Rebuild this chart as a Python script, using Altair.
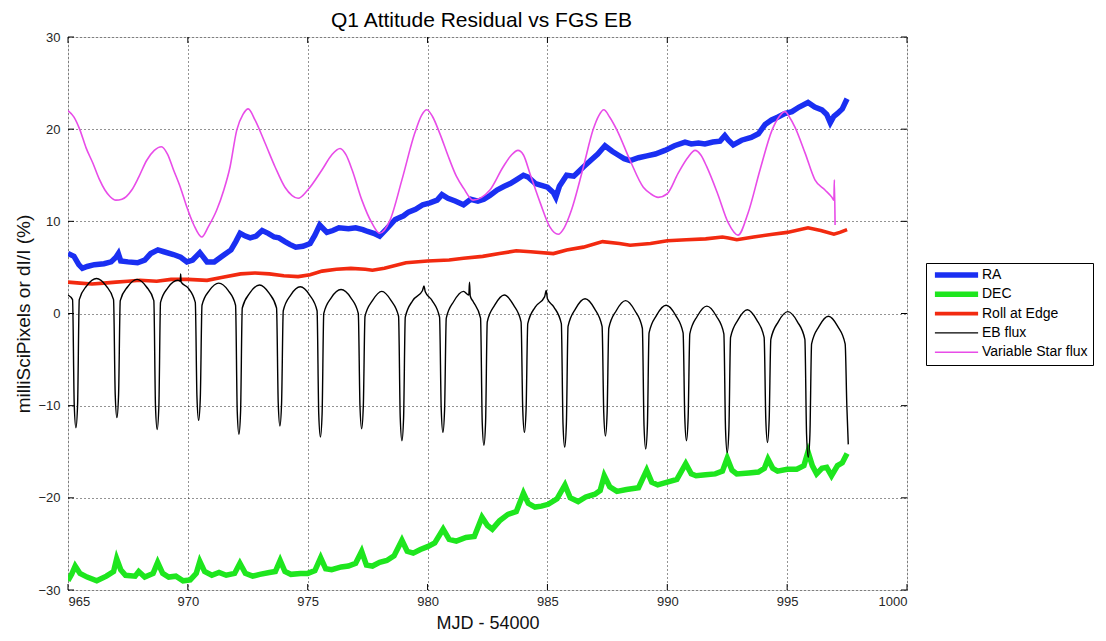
import altair as alt
import pandas as pd

TITLE = "Q1 Attitude Residual vs FGS EB"
X_TITLE = "MJD - 54000"
Y_TITLE = "milliSciPixels or dI/I (%)"
SERIES = ["RA", "DEC", "Roll at Edge", "EB flux", "Variable Star flux"]
COLORS = ["#1a2ff2", "#1ee61e", "#f22a10", "#000000", "#e84ce8"]
WIDTHS = [5.5, 5.5, 3.6, 1.4, 1.6]
X_TICKS = [965, 970, 975, 980, 985, 990, 995, 1000]
Y_TICKS = [-30, -20, -10, 0, 10, 20, 30]

RA_T = [965.00, 965.25, 965.45, 965.60, 965.80, 966.10, 966.50, 966.80, 967.00, 967.10,
        967.20, 967.50, 967.90, 968.20, 968.45, 968.75, 969.00, 969.40, 969.70, 969.96,
        970.20, 970.50, 970.80, 971.10, 971.47, 971.80, 972.00, 972.18, 972.40, 972.60,
        972.85, 973.10, 973.35, 973.60, 973.80, 974.05, 974.25, 974.50, 974.80, 975.10,
        975.30, 975.50, 975.80, 976.05, 976.30, 976.70, 977.00, 977.30, 977.50, 977.75,
        978.00, 978.30, 978.65, 979.00, 979.20, 979.50, 979.80, 980.10, 980.40, 980.60,
        980.85, 981.15, 981.50, 981.80, 982.10, 982.35, 982.60, 982.90, 983.20, 983.45,
        983.70, 984.00, 984.20, 984.50, 984.75, 985.00, 985.25, 985.35, 985.50, 985.80,
        986.10, 986.50, 986.80, 987.10, 987.40, 987.70, 987.95, 988.20, 988.45, 988.80,
        989.15, 989.50, 989.90, 990.30, 990.74, 991.00, 991.30, 991.57, 991.90, 992.20,
        992.40, 992.55, 992.75, 993.10, 993.50, 993.80, 994.08, 994.35, 994.60, 994.90,
        995.20, 995.50, 995.87, 996.15, 996.45, 996.65, 996.80, 996.95, 997.10, 997.30,
        997.50]
RA_V = [6.5, 6.2, 5.3, 4.9, 5.1, 5.3, 5.4, 5.6, 6.1, 6.5,
        5.7, 5.6, 5.5, 5.8, 6.5, 6.9, 6.7, 6.4, 6.1, 5.6,
        5.8, 6.6, 5.6, 5.6, 6.3, 6.9, 7.8, 8.7, 8.4, 8.2,
        8.4, 9.0, 8.7, 8.3, 8.2, 7.8, 7.5, 7.2, 7.3, 7.6,
        8.5, 9.6, 8.8, 9.0, 9.3, 9.2, 9.3, 9.1, 8.9, 8.7,
        8.4, 9.2, 10.2, 10.6, 11.0, 11.3, 11.8, 12.0, 12.3, 12.9,
        12.5, 12.2, 11.8, 12.4, 12.2, 12.4, 12.8, 13.4, 13.8, 14.1,
        14.5, 15.0, 14.8, 14.1, 13.9, 13.7, 13.1, 12.6, 13.8, 15.0,
        14.9, 15.9, 16.6, 17.3, 18.2, 17.6, 17.2, 16.8, 16.6, 16.9,
        17.1, 17.3, 17.7, 18.2, 18.6, 18.4, 18.5, 18.4, 18.6, 18.7,
        19.3, 18.8, 18.3, 18.8, 19.1, 19.5, 20.5, 21.0, 21.3, 21.7,
        21.9, 22.4, 22.9, 22.4, 22.1, 21.6, 20.7, 21.4, 21.7, 22.2,
        23.3]

DEC_T = [965.00, 965.15, 965.30, 965.50, 965.80, 966.20, 966.60, 966.90, 967.03, 967.20,
         967.40, 967.80, 967.95, 968.20, 968.55, 968.74, 968.95, 969.20, 969.50, 969.80,
         970.10, 970.35, 970.50, 970.70, 971.00, 971.30, 971.60, 971.95, 972.17, 972.40,
         972.70, 973.00, 973.40, 973.65, 973.85, 974.05, 974.30, 974.70, 975.00, 975.30,
         975.54, 975.75, 976.00, 976.40, 976.70, 977.00, 977.25, 977.45, 977.70, 978.00,
         978.30, 978.60, 978.93, 979.15, 979.40, 979.70, 980.00, 980.30, 980.65, 980.90,
         981.20, 981.60, 981.95, 982.27, 982.50, 982.70, 983.00, 983.35, 983.70, 984.00,
         984.20, 984.48, 984.75, 985.03, 985.40, 985.73, 985.95, 986.28, 986.60, 986.98,
         987.20, 987.37, 987.60, 987.90, 988.30, 988.80, 989.14, 989.35, 989.60, 990.00,
         990.40, 990.77, 991.00, 991.20, 991.60, 992.00, 992.30, 992.50, 992.70, 992.90,
         993.40, 993.80, 994.05, 994.20, 994.40, 994.60, 995.00, 995.40, 995.70, 995.87,
         996.05, 996.23, 996.45, 996.65, 996.85, 997.10, 997.30, 997.50]
DEC_V = [-29.0, -28.3, -27.4, -28.2, -28.6, -29.0, -28.5, -28.0, -26.6, -27.8,
         -28.4, -28.5, -28.0, -28.6, -28.2, -27.0, -28.2, -28.6, -28.5, -29.0,
         -28.9, -28.2, -26.9, -28.0, -28.4, -28.1, -28.4, -28.2, -27.1, -28.2,
         -28.5, -28.3, -28.1, -28.0, -26.8, -28.0, -28.3, -28.2, -28.2, -27.9,
         -26.5, -27.7, -27.8, -27.5, -27.4, -27.1, -25.8, -27.3, -27.4, -27.0,
         -26.8, -26.3, -24.6, -25.8, -26.0, -25.6, -25.3, -24.9, -23.4, -24.5,
         -24.7, -24.3, -24.2, -22.1, -23.0, -23.4, -22.5, -21.8, -21.5, -19.5,
         -20.6, -21.0, -20.9, -20.7, -20.1, -18.6, -20.0, -20.4, -19.9, -19.6,
         -19.2, -17.6, -18.8, -19.3, -19.1, -18.9, -17.0, -18.3, -18.6, -18.3,
         -18.0, -16.3, -17.4, -17.6, -17.5, -17.4, -17.1, -15.7, -17.0, -17.4,
         -17.3, -17.2, -16.8, -15.8, -16.8, -17.1, -16.9, -16.9, -16.5, -15.0,
         -16.5, -17.4, -16.8, -16.7, -17.6, -16.5, -16.2, -15.2]

ROLL_T = [965.00, 965.50, 966.00, 966.50, 967.00, 967.50, 968.00, 968.70, 969.30, 970.00,
          970.80, 971.40, 972.20, 972.80, 973.40, 974.00, 974.60, 975.10, 975.60, 976.20,
          976.80, 977.40, 977.70, 978.20, 979.10, 980.00, 980.90, 981.50, 982.30, 983.00,
          983.70, 984.30, 985.25, 985.80, 986.50, 987.30, 988.00, 988.45, 989.30, 990.00,
          990.80, 991.60, 992.30, 992.55, 992.90, 993.60, 994.40, 995.00, 995.87, 996.40,
          996.95, 997.20, 997.50]
ROLL_V = [3.4, 3.3, 3.2, 3.3, 3.4, 3.5, 3.6, 3.5, 3.7, 3.7,
          3.6, 3.9, 4.3, 4.4, 4.3, 4.1, 4.0, 4.2, 4.6, 4.8,
          4.9, 4.8, 4.7, 4.9, 5.5, 5.7, 5.8, 6.0, 6.2, 6.5,
          6.8, 6.7, 6.5, 6.9, 7.2, 7.8, 7.6, 7.4, 7.6, 7.9,
          8.0, 8.1, 8.3, 8.2, 8.0, 8.3, 8.6, 8.8, 9.3, 9.0,
          8.6, 8.8, 9.1]

EB_T = [965.00, 965.19, 965.26, 965.33,
        965.40, 965.47, 965.78, 966.19, 966.59, 966.90, 966.97, 967.04,
        967.11, 967.18, 967.49, 967.88, 968.27, 968.58, 968.65, 968.72,
        968.79, 968.86, 969.17, 969.59, 969.68, 969.70, 969.72, 970.00, 970.31, 970.38, 970.45,
        970.52, 970.59, 970.90, 971.29, 971.68, 971.99, 972.06, 972.13,
        972.20, 972.27, 972.58, 972.99, 973.39, 973.70, 973.77, 973.84,
        973.91, 973.98, 974.29, 974.69, 975.08, 975.39, 975.46, 975.53,
        975.60, 975.67, 975.98, 976.39, 976.80, 977.11, 977.18, 977.25,
        977.32, 977.39, 977.70, 978.09, 978.48, 978.79, 978.86, 978.93,
        979.00, 979.07, 979.38, 979.79, 979.85, 979.90, 980.19, 980.50, 980.57, 980.64,
        980.71, 980.78, 981.09, 981.50, 981.72, 981.75, 981.78, 981.90, 982.21, 982.28, 982.35,
        982.42, 982.49, 982.80, 983.20, 983.59, 983.90, 983.97, 984.04,
        984.11, 984.18, 984.49, 984.88, 984.95, 985.00, 985.27, 985.58, 985.65, 985.72,
        985.79, 985.86, 986.17, 986.57, 986.97, 987.28, 987.35, 987.42,
        987.49, 987.56, 987.87, 988.26, 988.65, 988.96, 989.03, 989.10,
        989.17, 989.24, 989.55, 989.95, 990.35, 990.66, 990.73, 990.80,
        990.87, 990.94, 991.25, 991.65, 992.05, 992.36, 992.43, 992.50,
        992.57, 992.64, 992.95, 993.34, 993.73, 994.04, 994.11, 994.18,
        994.25, 994.32, 994.63, 995.03, 995.43, 995.74, 995.81, 995.88,
        995.95, 996.02, 996.33, 996.72, 997.11, 997.42, 997.49, 997.55]
EB_V = [2.0, 1.5, -9.9, -12.4,
        -9.9, 1.5, 3.0, 3.8, 3.0, 1.5, -8.8, -11.3,
        -8.8, 1.4, 2.9, 3.7, 2.9, 1.4, -10.1, -12.6,
        -10.1, 1.2, 2.8, 3.6, 3.5, 4.3, 3.4, 2.8, 1.2, -9.1, -11.6,
        -9.1, 0.9, 2.5, 3.3, 2.5, 0.9, -10.6, -13.1,
        -10.6, 0.6, 2.2, 3.1, 2.2, 0.6, -9.7, -12.2,
        -9.7, 0.3, 2.0, 2.9, 2.0, 0.3, -10.9, -13.4,
        -10.9, 0.0, 1.7, 2.6, 1.7, 0.0, -10.0, -12.5,
        -10.0, -0.3, 1.4, 2.4, 1.4, -0.3, -11.3, -13.8,
        -11.3, -0.4, 1.4, 2.5, 3.0, 2.4, 1.4, -0.4, -10.4, -12.9,
        -10.4, -0.5, 1.3, 2.4, 2.0, 3.4, 1.9, 1.3, -0.5, -11.8, -14.3,
        -11.8, -0.9, 0.9, 2.0, 0.9, -0.9, -10.4, -12.9,
        -10.4, -1.1, 0.7, 1.8, 2.5, 1.6, 0.7, -1.1, -12.0, -14.5,
        -12.0, -1.4, 0.5, 1.6, 0.5, -1.4, -10.8, -13.3,
        -10.8, -1.6, 0.3, 1.4, 0.3, -1.6, -12.2, -14.7,
        -12.2, -2.1, -0.2, 0.9, -0.2, -2.1, -11.3, -13.8,
        -11.3, -2.2, -0.3, 0.8, -0.3, -2.2, -12.6, -15.1,
        -12.6, -2.6, -0.7, 0.4, -0.7, -2.6, -11.5, -14.0,
        -11.5, -2.8, -0.9, 0.2, -0.9, -2.8, -13.1, -15.6,
        -13.1, -3.3, -1.4, -0.3, -1.4, -3.3, -10.0, -14.2]

VS_T = [965.00, 965.25, 965.50, 965.75, 966.04, 966.30, 966.54, 966.75, 967.00, 967.25,
        967.66, 967.95, 968.28, 968.60, 968.90, 969.15, 969.40, 969.70, 969.95, 970.25,
        970.58, 970.85, 971.20, 971.50, 971.76, 972.04, 972.30, 972.52, 972.80, 973.22,
        973.64, 974.05, 974.35, 974.60, 975.00, 975.60, 976.00, 976.35, 976.60, 976.85,
        977.26, 977.68, 978.00, 978.43, 978.93, 979.47, 979.75, 979.97, 980.20, 980.50,
        980.90, 981.20, 981.50, 981.90, 982.25, 982.60, 983.15, 983.50, 983.77, 984.00,
        984.27, 984.70, 985.10, 985.45, 985.70, 986.00, 986.50, 986.90, 987.15, 987.35,
        987.60, 987.90, 988.45, 989.00, 989.30, 989.62, 990.00, 990.45, 990.85, 991.16,
        991.40, 991.65, 992.10, 992.55, 992.95, 993.37, 993.87, 994.37, 994.65, 994.91,
        995.10, 995.33, 995.75, 996.16, 996.58, 996.87, 996.95, 996.97, 997.00]
VS_V = [22.0, 21.3, 19.9, 18.0, 16.3, 14.6, 13.4, 12.7, 12.3, 12.4,
        13.4, 14.8, 16.6, 17.7, 18.1, 17.3, 15.6, 13.6, 11.6, 9.6,
        8.3, 9.4, 11.2, 13.4, 15.9, 19.9, 21.6, 22.2, 21.0, 18.5,
        15.9, 13.7, 12.8, 12.5, 13.4, 15.6, 17.2, 17.9, 17.2, 15.6,
        12.3, 9.8, 8.7, 10.1, 14.5, 19.6, 21.5, 22.1, 21.4, 19.6,
        16.8, 14.9, 13.6, 12.3, 12.6, 13.4, 15.9, 17.2, 17.7, 17.2,
        15.2, 12.0, 9.4, 8.6, 9.3, 11.2, 15.9, 19.9, 21.5, 22.1,
        21.3, 19.9, 16.6, 13.7, 13.0, 12.6, 13.0, 15.2, 16.9, 17.7,
        17.2, 15.9, 13.0, 9.8, 8.5, 10.9, 15.6, 19.9, 21.3, 21.9,
        21.3, 20.2, 17.4, 14.5, 13.4, 12.6, 12.3, 14.5, 9.6]

SERIES_DATA = [(RA_T, RA_V), (DEC_T, DEC_V), (ROLL_T, ROLL_V), (EB_T, EB_V), (VS_T, VS_V)]

W, H = 839, 553
FONT = "Liberation Sans"

frames = []
for name, (ts, vs) in zip(SERIES, SERIES_DATA):
    frames.append(pd.DataFrame({"t": ts, "v": vs, "series": name}))
df = pd.concat(frames, ignore_index=True)

x_scale = alt.Scale(domain=[965, 1000], nice=False, zero=False)
y_scale = alt.Scale(domain=[-30, 30], nice=False, zero=False)

grid_style = dict(grid=True, gridColor="#000", gridDash=[1, 3], gridOpacity=0.85,
                  gridWidth=1)
x_axis = alt.Axis(title=X_TITLE, values=X_TICKS, format="d", ticks=False,
                  domain=False, labelPadding=5, labelFontSize=13, labelFont=FONT,
                  labelColor="#262626", titleFont=FONT, titleFontSize=18,
                  titleFontWeight="normal", titleColor="#111", titleBaseline="alphabetic",
                  titleY=38, titleX=W / 2, **grid_style)
y_axis = alt.Axis(title=Y_TITLE, values=Y_TICKS, format="d", ticks=False,
                  domain=False, labelPadding=8, labelFontSize=13, labelFont=FONT,
                  labelColor="#262626", titleFont=FONT, titleFontSize=19,
                  titleFontWeight="normal", titleColor="#111", titleAngle=-90,
                  titleBaseline="alphabetic", titleX=-39, titleY=H / 2, **grid_style)

legend = alt.Legend(title=None, orient="none", legendX=858, legendY=226,
                    symbolType="M-7.2,0H7.2", symbolSize=36, symbolOffset=18.5,
                    labelOffset=18.5, padding=5, rowPadding=5.3, clipHeight=14,
                    strokeColor="#000", fillColor="#fff", labelFont=FONT,
                    labelFontSize=14, labelColor="#000")

color_enc = alt.Color("series:N", scale=alt.Scale(domain=SERIES, range=COLORS),
                      legend=legend)
width_enc = alt.StrokeWidth("series:N",
                            scale=alt.Scale(type="ordinal", domain=SERIES, range=WIDTHS),
                            legend=legend)

layers = []
for name in SERIES:
    interp = "monotone" if name in ("Variable Star flux", "EB flux") else "linear"
    layers.append(
        alt.Chart(df).transform_filter(alt.datum.series == name)
        .mark_line(interpolate=interp, clip=True)
        .encode(x=alt.X("t:Q", scale=x_scale, axis=x_axis),
                y=alt.Y("v:Q", scale=y_scale, axis=y_axis),
                color=color_enc, strokeWidth=width_enc,
                order=alt.Order("t:Q"))
    )

ytick_df = pd.DataFrame({"v": Y_TICKS})
xtick_df = pd.DataFrame({"t": X_TICKS})
tick_style = dict(color="#000", strokeWidth=1)
layers.append(alt.Chart(ytick_df).mark_rule(**tick_style).encode(
    y=alt.Y("v:Q", scale=y_scale, axis=y_axis), x=alt.value(0), x2=alt.value(6)))
layers.append(alt.Chart(ytick_df).mark_rule(**tick_style).encode(
    y=alt.Y("v:Q", scale=y_scale, axis=y_axis), x=alt.value(W - 6), x2=alt.value(W)))
layers.append(alt.Chart(xtick_df).mark_rule(**tick_style).encode(
    x=alt.X("t:Q", scale=x_scale, axis=x_axis), y=alt.value(H - 6), y2=alt.value(H)))
layers.append(alt.Chart(xtick_df).mark_rule(**tick_style).encode(
    x=alt.X("t:Q", scale=x_scale, axis=x_axis), y=alt.value(0), y2=alt.value(6)))

title_df = pd.DataFrame({"label": [TITLE]})
layers.append(alt.Chart(title_df).mark_text(
    font=FONT, fontSize=21, color="#000", align="center", baseline="alphabetic"
).encode(text="label:N", x=alt.value(W / 2 - 6), y=alt.value(-10)))

chart = alt.layer(*layers).properties(
    width=W, height=H,
    padding={"left": 60, "top": 29, "right": 191, "bottom": 43},
    autosize=alt.AutoSizeParams(type="none"),
).configure_view(stroke="#000", strokeWidth=1).configure(background="white")

chart.save("out.html", embed_options={"renderer": "svg", "actions": False})
